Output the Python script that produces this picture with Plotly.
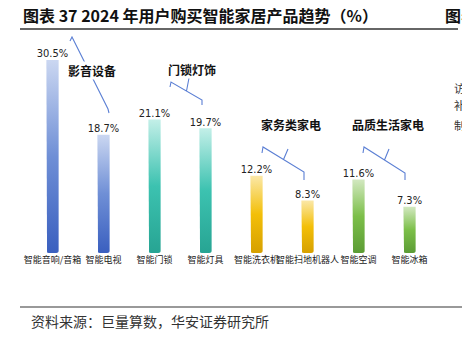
import numpy as np
import plotly.graph_objects as go

# ---- data ----
categories = ["智能音响/音箱", "智能电视", "智能门锁", "智能灯具",
              "智能洗衣机", "智能扫地机器人", "智能空调", "智能冰箱"]
values = [30.5, 18.7, 21.1, 19.7, 12.2, 8.3, 11.6, 7.3]
groups = ["影音设备", "门锁灯饰", "家务类家电", "品质生活家电"]
title_text = "图表 37 2024 年用户购买智能家居产品趋势（%）"
source_text = "资料来源：巨量算数，华安证券研究所"

# ---- style ----
W, H = 462, 338
ML, MR, MT, MB = 27, 27, 35, 85
PW, PH = W - ML - MR, H - MT - MB
YMAX = PH / 6.33

palettes = [
    ["#3a5fbf", "#6f8fd6", "#cbd7f1"],
    ["#3a5fbf", "#6f8fd6", "#cbd7f1"],
    ["#27a493", "#3cc2b0", "#c3efe8"],
    ["#27a493", "#3cc2b0", "#c3efe8"],
    ["#d6a000", "#f3bf08", "#fbe8a8"],
    ["#d6a000", "#f3bf08", "#fbe8a8"],
    ["#5c9c35", "#7cbf49", "#d2e8c0"],
    ["#5c9c35", "#7cbf49", "#d2e8c0"],
]

def px2x(px):
    return (px - ML) / PW * len(categories) - 0.5

def py2y(py):
    return (H - MB - py) / PH * YMAX

def px2p(px):
    return (px - ML) / PW

def py2p(py):
    return (H - MB - py) / PH

fig = go.Figure()

hw = 0.12
rx, ry = 0.045, 0.33
ang = np.linspace(0, np.pi / 2, 5)
for i, v in enumerate(values):
    xs = [i - hw]
    ys = [v]
    xs += list(i - hw + rx - rx * np.cos(ang))
    ys += list(ry - ry * np.sin(ang))
    xs += list(i + hw - rx + rx * np.sin(ang))
    ys += list(ry - ry * np.cos(ang))
    xs += [i + hw, i - hw]
    ys += [v, v]
    c = palettes[i]
    fig.add_trace(go.Scatter(
        x=xs, y=ys, mode="lines", line=dict(width=0),
        fill="toself",
        fillgradient=dict(type="vertical",
                          colorscale=[[0, c[0]], [0.5, c[1]], [1, c[2]]]),
        hoverinfo="skip", showlegend=False))

fig.add_trace(go.Scatter(
    x=list(range(len(values))), y=values, mode="text",
    text=[f"{v}%" for v in values], textposition="top center",
    textfont=dict(family="Liberation Sans Narrow, DejaVu Sans Condensed, Arial Narrow, sans-serif",
                  size=11, color="#222222"),
    hoverinfo="skip", showlegend=False))

# brackets (reference pixel geometry, shifted with their bar pair)
shift = [-10, 0, 6, 2]
brackets = [
    [(80, 41), (82, 37), (118, 109), (119, 113)],
    [(170, 87), (171, 82), (202, 100), (202, 105)],
    [(256, 153), (257, 147), (298, 172), (298, 180)],
    [(361, 153), (362, 147), (403, 173), (403, 180)],
]
ticks = [None, [(186.5, 91), (189, 78)], [(277.5, 159.5), (282, 149)],
         [(382.5, 160), (387, 149)]]
label_pos = [(102, 70), (192, 69), (285, 124), (386, 124)]

shapes = []
annotations = []
cjk = "Noto Sans CJK SC, sans-serif"
for g, b, t, (lx, ly), s in zip(groups, brackets, ticks, label_pos, shift):
    path = "M " + " L ".join(f"{px2x(a + s)},{py2y(c)}" for a, c in b)
    if t:
        path += " M " + " L ".join(f"{px2x(a + s)},{py2y(c)}" for a, c in t)
    shapes.append(dict(type="path", path=path, xref="x", yref="y",
                       line=dict(color="#5b7fd4", width=1.1), layer="below"))
    annotations.append(dict(text=f"<b>{g}</b>", x=px2x(lx + s), y=py2y(ly),
                            xref="x", yref="y", showarrow=False,
                            font=dict(family=cjk, size=12, color="#111111"),
                            bgcolor="white", borderpad=0))

shapes.append(dict(type="line", xref="paper", yref="paper",
                   x0=px2p(20), x1=px2p(458), y0=py2p(29), y1=py2p(29),
                   line=dict(color="#333333", width=1.5)))
shapes.append(dict(type="line", xref="paper", yref="paper",
                   x0=px2p(20), x1=px2p(462), y0=py2p(307), y1=py2p(307),
                   line=dict(color="#999999", width=2)))

annotations.append(dict(text=f"<b>{title_text}</b>", x=px2p(21), y=py2p(15),
                        xref="paper", yref="paper", xanchor="left", yanchor="middle",
                        showarrow=False, font=dict(family=cjk, size=16, color="#111111")))
annotations.append(dict(text="<b>图表</b>", x=px2p(443), y=py2p(15),
                        xref="paper", yref="paper", xanchor="left", yanchor="middle",
                        showarrow=False, font=dict(family=cjk, size=16, color="#111111")))
for ch, yy in [("访", 88), ("补", 105), ("制", 125)]:
    annotations.append(dict(text=ch, x=px2p(452), y=py2p(yy),
                            xref="paper", yref="paper", xanchor="left", yanchor="middle",
                            showarrow=False, font=dict(family=cjk, size=11, color="#333333")))
annotations.append(dict(text=source_text, x=px2p(29), y=py2p(321),
                        xref="paper", yref="paper", xanchor="left", yanchor="middle",
                        showarrow=False, font=dict(family=cjk, size=14, color="#333333")))

fig.update_layout(
    width=W, height=H,
    margin=dict(l=ML, r=MR, t=MT, b=MB),
    paper_bgcolor="white", plot_bgcolor="white",
    showlegend=False,
    xaxis=dict(range=[-0.5, len(categories) - 0.5], tickvals=list(range(len(categories))),
               ticktext=categories, tickangle=0, showgrid=False, zeroline=False,
               showline=False, ticks="", fixedrange=True,
               tickfont=dict(family=cjk, size=9, color="#222222")),
    yaxis=dict(range=[0, YMAX], visible=False, fixedrange=True),
    shapes=shapes, annotations=annotations,
)

fig.write_html("out.html", config={"displayModeBar": False})
